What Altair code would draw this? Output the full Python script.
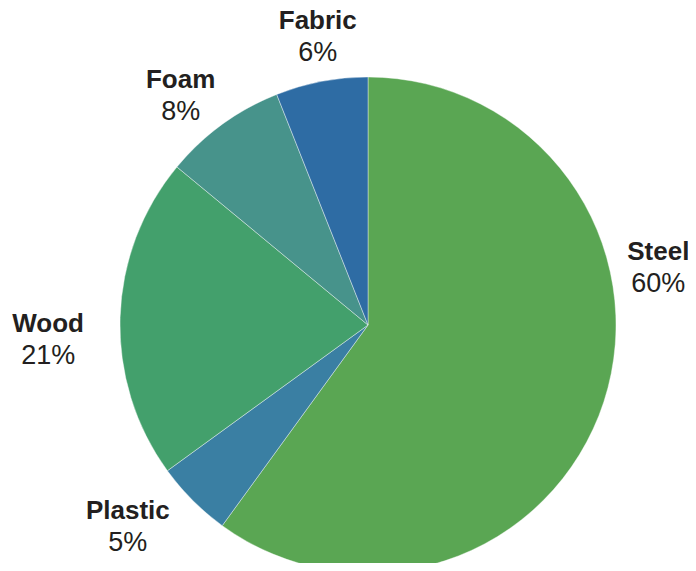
import altair as alt
import pandas as pd

materials = ["Steel", "Plastic", "Wood", "Foam", "Fabric"]
shares = [60, 5, 21, 8, 6]
share_labels = ["60%", "5%", "21%", "8%", "6%"]
colors = ["#5aa653", "#3a7fa3", "#43a06c", "#47938b", "#2e6ca4"]

df = pd.DataFrame({"material": materials, "share": shares, "pct": share_labels,
                   "order": list(range(len(materials)))})

PAD_TOP = 8
CX, CY, R = 360, 317 - PAD_TOP, 248
LR = 300
FONT = "Liberation Sans"

theta_scale = alt.Scale(domain=[0, 100], range=[0, 6.283185307179586])

base = alt.Chart(df).transform_window(
    cum="sum(share)", sort=[alt.SortField("order")],
    frame=[None, 0]
).transform_calculate(
    start="datum.cum - datum.share",
    mid="datum.cum - datum.share / 2"
)

arcs = base.mark_arc(stroke="#ffffff", strokeWidth=0.4).encode(
    theta=alt.Theta("start:Q", scale=theta_scale),
    theta2="cum:Q",
    radius=alt.value(R),
    x=alt.value(CX), y=alt.value(CY),
    color=alt.Color("material:N", scale=alt.Scale(domain=materials, range=colors), legend=None),
)

# per-label nudges (styling) relative to mid-angle position
offsets = {"Steel": (5, -150), "Plastic": (-28, -10), "Wood": (-20, 24), "Foam": (-11, 14), "Fabric": (6, 7)}

layers = [arcs]
for m in materials:
    dx, dy = offsets[m]
    sub = base.transform_filter(alt.datum.material == m)
    enc = dict(theta=alt.Theta("mid:Q", scale=theta_scale),
               radius=alt.value(LR), x=alt.value(CX), y=alt.value(CY))
    layers.append(sub.mark_text(font=FONT, fontSize=26, fontWeight="bold", color="#231f20",
                                dx=dx, dy=dy - 16, align="center", baseline="middle")
                  .encode(text="material:N", **enc))
    layers.append(sub.mark_text(font=FONT, fontSize=27, color="#231f20",
                                dx=dx, dy=dy + 16, align="center", baseline="middle")
                  .encode(text="pct:N", **enc))

chart = alt.layer(*layers).properties(
    width=680, height=555 - PAD_TOP, autosize=alt.AutoSizeParams(type="none"),
    padding={"top": PAD_TOP, "left": 0, "right": 0, "bottom": 0}
).configure_view(stroke=None)

chart.save("out.html", embed_options={"renderer": "svg", "actions": False})
